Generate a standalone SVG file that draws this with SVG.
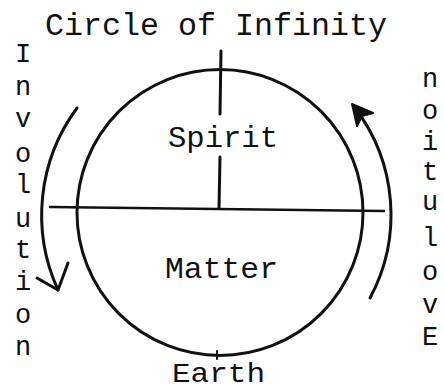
<svg xmlns="http://www.w3.org/2000/svg" width="444" height="391" viewBox="0 0 444 391">
<style>
.t{font-family:"Liberation Mono","Courier New",monospace;font-size:30px;fill:#111;text-anchor:middle}
.v{font-family:"Liberation Mono","Courier New",monospace;font-size:27px;fill:#111;text-anchor:middle}
.s{fill:none;stroke:#111;stroke-linecap:round;stroke-linejoin:round}
</style>
<rect width="444" height="391" fill="#fff"/>
<g id="title"><text class="t" x="216" y="35" textLength="342" lengthAdjust="spacingAndGlyphs" style="font-size:31px">Circle of Infinity</text></g>
<g id="circle">
<circle class="s" cx="220" cy="212.5" r="143" stroke-width="3"/>
<line class="s" x1="217" y1="351" x2="217" y2="359" stroke-width="2"/>
</g>
<g id="connectors">
<line class="s" x1="221" y1="51" x2="220" y2="114" stroke-width="3"/>
<line class="s" x1="220" y1="157" x2="219" y2="208" stroke-width="3"/>
<line class="s" x1="50" y1="207" x2="384" y2="211" stroke-width="2.5"/>
<path class="s" d="M77,108 A180,180 0 0 0 58,290" stroke-width="3"/>
<path class="s" d="M37,278 L58,290 L68,263" stroke-width="3"/>
<path class="s" d="M370,298 A176,176 0 0 0 355,108" stroke-width="3"/>
<path d="M352,104 L373,113 L362,116 L357,126 Z" fill="#111" stroke="#111" stroke-width="2" stroke-linejoin="round"/>
</g>
<g id="spirit"><text class="t" x="223" y="147" textLength="110" lengthAdjust="spacingAndGlyphs">Spirit</text></g>
<g id="matter"><text class="t" x="221.5" y="278" textLength="113" lengthAdjust="spacingAndGlyphs">Matter</text></g>
<g id="earth"><text class="t" x="218.5" y="382" textLength="93" lengthAdjust="spacingAndGlyphs" style="font-size:28px">Earth</text></g>
<g id="involution">
<text class="v" x="23" y="62">I</text>
<text class="v" x="23" y="95">n</text>
<text class="v" x="23" y="127">v</text>
<text class="v" x="23" y="162">o</text>
<text class="v" x="23" y="193">l</text>
<text class="v" x="23" y="227">u</text>
<text class="v" x="23" y="258">t</text>
<text class="v" x="23" y="290">i</text>
<text class="v" x="23" y="323">o</text>
<text class="v" x="23" y="355">n</text>
</g>
<g id="evolution">
<text class="v" x="430" y="87">n</text>
<text class="v" x="430" y="119">o</text>
<text class="v" x="430" y="150">i</text>
<text class="v" x="430" y="180">t</text>
<text class="v" x="430" y="210">u</text>
<text class="v" x="430" y="246">l</text>
<text class="v" x="430" y="280">o</text>
<text class="v" x="430" y="313">v</text>
<text class="v" x="430" y="345">E</text>
</g>
</svg>
